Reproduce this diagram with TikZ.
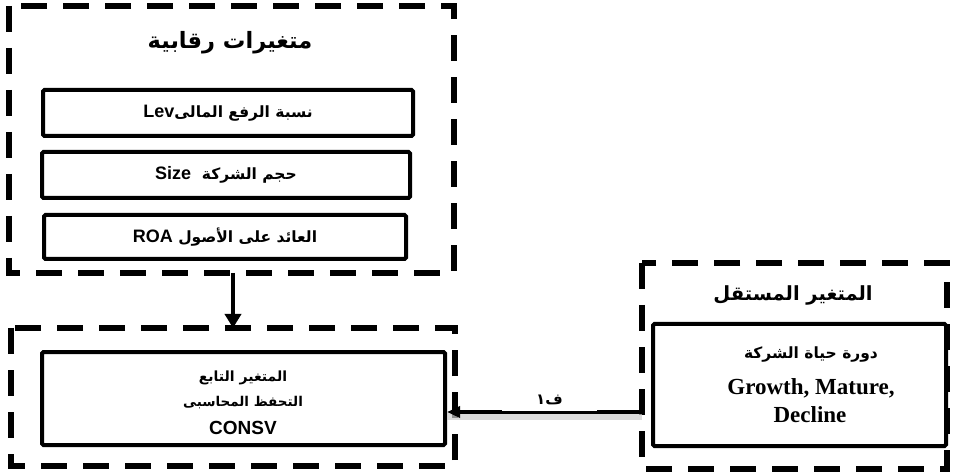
\documentclass[tikz,border=0pt]{standalone}
\usepackage{fontspec}
\setmainfont{Liberation Serif}
\newfontfamily\arabicfont[Script=Arabic]{DejaVu Sans}
\newfontfamily\latinsans{Liberation Sans}
\TeXXeTstate=1
\usetikzlibrary{arrows.meta}
\begin{document}
\begin{tikzpicture}[x=1pt,y=-1pt,
  dashbox/.style={draw=black, line width=5.5pt, dash pattern=on 26pt off 16pt},
  varbox/.style={draw=black, line width=4pt, rounded corners=1.5pt},
  artxt/.style={font=\arabicfont\bfseries, inner sep=0pt},
  serif/.style={font=\rmfamily\bfseries, inner sep=0pt},
  arr/.style={line width=4pt, -{Triangle[length=14pt,width=16pt]}}]
\useasboundingbox (0,0) rectangle (970,473);
% dashed group boxes
\draw[dashbox] (9,6) rectangle (454,273);
\coordinate (ctrlS) at (233,273);
\draw[dashbox] (11,328) rectangle (455,466);
\coordinate (depN) at (233,328);
\draw[dashbox] (642,263) rectangle (947,469);
\coordinate (indW) at (642,412);
% titles
\node[artxt, font=\arabicfont\bfseries\fontsize{22.5}{26}\selectfont] (ctrlT) at (230,43) {\beginR متغيرات رقابية\endR};
\node[artxt, font=\arabicfont\bfseries\fontsize{19.5}{24}\selectfont] (indT) at (793,295) {\beginR المتغير المستقل\endR};
% control variable boxes
\draw[varbox] (43,90) rectangle (413,136);
\node[artxt, font=\arabicfont\bfseries\fontsize{15.5}{18}\selectfont] (lev) at (228,113) {\beginR نسبة الرفع المالى\beginL{\latinsans\fontsize{18}{20}\selectfont Lev}\endL\endR};
\draw[varbox] (42,152) rectangle (410,198);
\node[artxt, font=\arabicfont\bfseries\fontsize{15.5}{18}\selectfont] (size) at (226,175) {\beginR حجم الشركة\ \ \beginL{\latinsans\fontsize{18}{20}\selectfont Size}\endL\endR};
\draw[varbox] (44,215) rectangle (406,259);
\node[artxt, font=\arabicfont\bfseries\fontsize{15.5}{18}\selectfont] (roa) at (225,237) {\beginR العائد على الأصول \beginL{\latinsans\fontsize{18}{20}\selectfont ROA}\endL\endR};
% dependent box
\node[varbox, minimum width=403pt, minimum height=93pt, inner sep=0pt] (dep) at (243.5,398.5) {};
\node[artxt, font=\arabicfont\bfseries\fontsize{14}{17}\selectfont] (dep1) at (243,378) {\beginR المتغير التابع\endR};
\node[artxt, font=\arabicfont\bfseries\fontsize{13.5}{17}\selectfont] (dep2) at (243,403) {\beginR التحفظ المحاسبى\endR};
\node[artxt, font=\latinsans\bfseries\fontsize{19}{22}\selectfont] (dep3) at (243,428) {CONSV};
% independent box
\node[varbox, minimum width=293pt, minimum height=122pt, inner sep=0pt] (ind) at (799.5,385) {};
\node[artxt, font=\arabicfont\bfseries\fontsize{15.5}{20}\selectfont] (ind1) at (811,355) {\beginR دورة حياة الشركة\endR};
\node[serif, font=\rmfamily\bfseries\fontsize{23}{27}\selectfont] (ind2) at (811,388) {Growth, Mature,};
\node[serif, font=\rmfamily\bfseries\fontsize{23}{27}\selectfont] (ind3) at (810,415) {Decline};
% arrows
\draw[arr] (ctrlS) -- (depN);
\draw[line width=7pt, black!20, opacity=0.7] ([yshift=-4pt]indW) -- ([yshift=-4pt]dep.east |- indW);
\draw[arr, -{Triangle[length=13pt,width=11pt]}] (indW) -- (dep.east |- indW);
\node[artxt, fill=white, minimum width=95pt, minimum height=22pt, anchor=south, font=\arabicfont\bfseries\fontsize{15}{17}\selectfont] (f1) at (549.5,411) {\beginR ف١\endR};
\end{tikzpicture}
\end{document}
